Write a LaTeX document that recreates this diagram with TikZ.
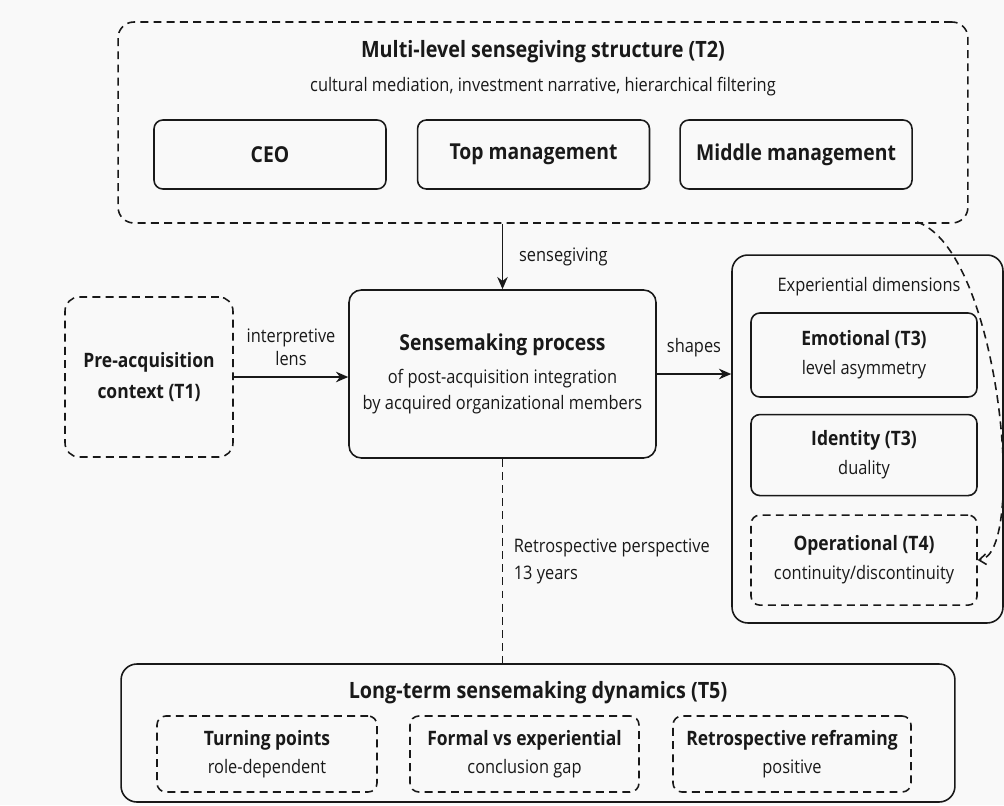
\documentclass[tikz,border=0pt]{standalone}
\usepackage{fontspec}
\setmainfont{Open Sans}[FakeStretch=0.88]
\usepackage{tikz}
\usetikzlibrary{arrows.meta, positioning, calc}
\definecolor{paper}{RGB}{249,249,249}
\definecolor{ink}{RGB}{25,25,25}

\begin{document}
\begin{tikzpicture}[
    x=0.02cm, y=-0.02cm,
    box/.style={rectangle, draw=ink, line width=0.9pt, rounded corners=5pt, align=center, inner sep=0pt, text=ink},
    dbox/.style={box, dash pattern=on 4.5pt off 3pt},
    frame/.style={box, rounded corners=9pt},
    lvl/.style={box, minimum width=4.64cm, minimum height=1.38cm, font=\bfseries\fontsize{12.5}{15}\selectfont},
    dim/.style={minimum width=4.52cm, minimum height=1.68cm, font=\fontsize{10.6}{14.8}\selectfont},
    dyn/.style={minimum height=1.52cm, font=\fontsize{10.6}{14.8}\selectfont},
    ttl/.style={inner sep=0pt, text=ink, font=\bfseries\fontsize{12.8}{15}\selectfont},
    sub/.style={inner sep=0pt, text=ink, font=\fontsize{10.6}{14.8}\selectfont},
    arr/.style={-{Stealth[length=7pt, width=6pt]}, line width=0.9pt, draw=ink},
    link/.style={draw=ink, line width=0.9pt, dash pattern=on 4.5pt off 3pt},
]
    \fill[paper] (0,0) rectangle (1004,805);
    \useasboundingbox (0,0) rectangle (1004,805);

    % Multi-level structure
    \node[frame, dash pattern=on 4.5pt off 3pt, minimum width=17cm, minimum height=4.02cm] (t2) at (543,122.5) {};
    \node[ttl] (t2title) at (543,52) {Multi-level sensegiving structure (T2)};
    \node[sub] (t2sub) at (543,87) {cultural mediation, investment narrative, hierarchical filtering};
    \node[lvl] (ceo) at (270,154.5) {CEO};
    \node[lvl, right=0.6cm of ceo] (topm) {Top management};
    \node[lvl, right=0.58cm of topm] (midm) {Middle management};

    % Sensemaking
    \node[box, rounded corners=7pt, minimum width=6.14cm, minimum height=3.36cm, font=\fontsize{10.6}{14.8}\selectfont] (sm) at (502.5,374)
        {{\bfseries\fontsize{12.5}{15}\selectfont Sensemaking process}\\[4pt]of post-acquisition integration\\by acquired organizational members};

    % Pre-acquisition
    \node[dbox, rounded corners=8pt, minimum width=3.36cm, minimum height=3.2cm, font=\bfseries\fontsize{11.3}{17.6}\selectfont] (pre) at (149,377)
        {Pre-acquisition\\context (T1)};

    % Experiential dimensions
    \node[frame, minimum width=5.42cm, minimum height=7.36cm] (exp) at (867.5,439) {};
    \node[sub] (expt) at (869,287) {Experiential dimensions};
    \node[box, dim] (emo) at (864,355) {{\bfseries\fontsize{11.3}{15}\selectfont Emotional (T3)}\\[1.7pt]level asymmetry};
    \node[box, dim, minimum height=1.62cm, below=0.32cm of emo] (ide) {{\bfseries\fontsize{11.3}{15}\selectfont Identity (T3)}\\[1.7pt]duality};
    \node[dbox, dim, minimum height=1.8cm, below=0.36cm of ide] (ope) {{\bfseries\fontsize{11.3}{15}\selectfont Operational (T4)}\\[1.7pt]continuity/discontinuity};

    % Long-term dynamics
    \node[frame, minimum width=16.68cm, minimum height=2.76cm] (t5) at (538,733) {};
    \node[ttl] (t5title) at (538,693) {Long-term sensemaking dynamics (T5)};
    \node[dbox, dyn, minimum width=4.4cm] (tp) at (267,754) {{\bfseries\fontsize{11.3}{15}\selectfont Turning points}\\[1.2pt]role-dependent};
    \node[dbox, dyn, minimum width=4.58cm] (fve) at (524.5,754) {{\bfseries\fontsize{11.3}{15}\selectfont Formal vs experiential}\\[1.2pt]conclusion gap};
    \node[dbox, dyn, minimum width=4.76cm] (rr) at (792,754) {{\bfseries\fontsize{11.3}{15}\selectfont Retrospective reframing}\\[1.2pt]positive};

    % Connectors
    \draw[arr] (sm.north |- t2.south) -- node[sub, right, xshift=9pt] {sensegiving} (sm.north);
    \draw[arr] (pre.east) -- node[sub, above, yshift=6pt, align=center, font=\fontsize{10.6}{13}\selectfont] {interpretive\\lens} (pre.east -| sm.west);
    \draw[arr] (sm.east) -- node[sub, above, yshift=9pt] {shapes} (sm.east -| exp.west);
    \draw[link] (sm.south) -- node[sub, right, xshift=6pt, align=left, pos=0.5, font=\fontsize{10.6}{15.4}\selectfont] {Retrospective perspective\\13 years} (sm.south |- t5.north);
    \coordinate (loop) at (917,222);
    \draw[link, -{Straight Barb[length=4pt, width=6pt]}] (loop) .. controls (1000,250) and (1028,555) .. (ope.east);
\end{tikzpicture}
\end{document}
